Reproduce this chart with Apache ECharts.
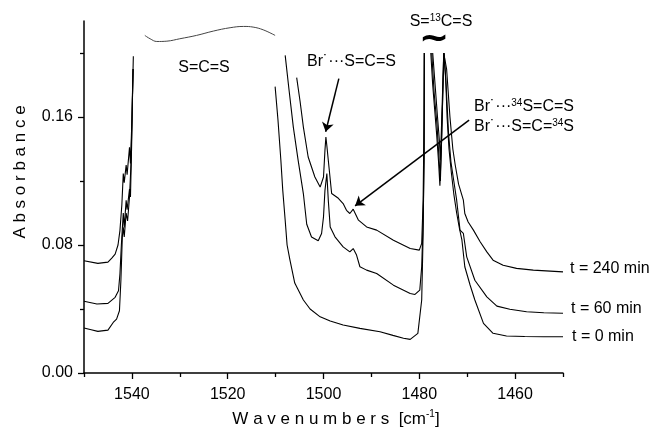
<!DOCTYPE html>
<html>
<head>
<meta charset="utf-8">
<script src="https://cdn.jsdelivr.net/npm/echarts@6/dist/echarts.min.js"></script>
<style>html,body{margin:0;padding:0;background:#fff}#c{width:655px;height:428px}</style>
</head>
<body>
<div id="c"></div>
<script>
// ---- data (wavenumber in cm-1, absorbance); null = gap (saturated / cut region)
var wn_t0 = [1550, 1548.5, 1547.1, 1545.0, 1543.9, 1543.2, 1542.6, 1542.3, 1542.0, 1541.8, 1541.6, 1541.2, 1540.9, 1540.5, 1540.2, 1539.9, 1539.7,
  1525,
  1510.1, 1509.5, 1508.9, 1508.5, 1508.0, 1507.6, 1507.0, 1506.0, 1504.2, 1502.8, 1500.7, 1498.6, 1495.9, 1492.4, 1488.2, 1485.5, 1483.3, 1481.9, 1480.3, 1479.5, 1479.2, 1479.0, 1478.95,
  1478.3,
  1477.6, 1477.2, 1476.8, 1476.4, 1476.0, 1475.7, 1475.4, 1475.0, 1474.8, 1474.5, 1474.2, 1473.8, 1473.3, 1472.8, 1472.2, 1471.6, 1471.1, 1470.5, 1469.4, 1468.4, 1466.6, 1464.6, 1461.8, 1458, 1454, 1450];
var abs_t0 = [0.0281, 0.027, 0.026, 0.0268, 0.0316, 0.0337, 0.0389, 0.0576, 0.085, 0.091, 0.085, 0.100, 0.095, 0.110, 0.130, 0.170, 0.190,
  null,
  0.179, 0.158, 0.133, 0.114, 0.0955, 0.080, 0.0705, 0.0562, 0.0456, 0.040, 0.0351, 0.0325, 0.030, 0.0279, 0.0258, 0.0235, 0.0217, 0.021, 0.0248, 0.0456, 0.087, 0.139, 0.2,
  null,
  0.2, 0.180, 0.165, 0.150, 0.133, 0.117, 0.140, 0.185, 0.200, 0.185, 0.160, 0.140, 0.125, 0.112, 0.100, 0.090, 0.083, 0.0664, 0.055, 0.0456, 0.031, 0.0248, 0.0231, 0.0228, 0.0227, 0.0227];

var wn_t60 = [1550, 1547.3, 1545.0, 1543.5, 1542.8, 1542.5, 1542.2, 1541.8, 1541.6, 1541.2, 1541.0, 1540.5, 1540.3, 1540.0, 1539.8,
  1525,
  1508.0, 1507.2, 1506.3, 1505.3, 1504.2, 1503.5, 1502.5, 1501.1, 1500.4, 1500.0, 1499.7, 1499.3, 1499.0, 1498.6, 1497.6, 1495.9, 1494.5, 1493.8, 1493.1, 1492.4, 1491.0, 1488.9, 1485.4, 1481.9, 1480.9, 1479.9, 1479.5, 1479.2, 1479.0, 1478.95,
  1478.3,
  1477.4, 1476.9, 1476.3, 1475.9, 1475.6, 1475.3, 1474.9, 1474.4, 1473.9, 1473.4, 1472.8, 1472.2, 1471.5, 1470.8, 1470.1, 1468.4, 1465.9, 1463.8, 1461.1, 1457.6, 1454, 1450];
var abs_t60 = [0.0448, 0.0431, 0.0435, 0.0473, 0.0514, 0.0618, 0.080, 0.100, 0.091, 0.108, 0.102, 0.115, 0.110, 0.150, 0.190,
  null,
  0.1985, 0.177, 0.1537, 0.133, 0.112, 0.093, 0.085, 0.0826, 0.0872, 0.0976, 0.114, 0.1247, 0.108, 0.0913, 0.0851, 0.0788, 0.0757, 0.0778, 0.0737, 0.0664, 0.0643, 0.0622, 0.0549, 0.0497, 0.0491, 0.0518, 0.0664, 0.0955, 0.133, 0.2,
  null,
  0.2, 0.175, 0.155, 0.135, 0.120, 0.150, 0.200, 0.180, 0.150, 0.132, 0.120, 0.108, 0.0893, 0.0872, 0.0726, 0.058, 0.0476, 0.0418, 0.0398, 0.0383, 0.0377, 0.0373];

var wn_t240 = [1550, 1547.1, 1545.0, 1544.2, 1543.5, 1542.9, 1542.5, 1542.1, 1541.8, 1541.6, 1541.2, 1541.0, 1540.5, 1540.3, 1540.0, 1539.7,
  1525,
  1505.6, 1504.9, 1504.2, 1503.2, 1501.8, 1500.7, 1500.0, 1499.7, 1499.5, 1499.3, 1499.0, 1498.3, 1496.9, 1495.9, 1495.2, 1494.5, 1493.8, 1492.7, 1491.0, 1488.9, 1485.4, 1481.9, 1480.0, 1479.5, 1479.2, 1479.0, 1478.95,
  1478.3,
  1477.2, 1476.7, 1476.2, 1475.8, 1475.6, 1475.3, 1474.9, 1474.3, 1473.6, 1473.0, 1472.5, 1471.8, 1470.8, 1470.5, 1469.8, 1468.7, 1467.3, 1465.9, 1464.6, 1462.5, 1459.7, 1456.2, 1450];
var abs_t240 = [0.0702, 0.0685, 0.0693, 0.0718, 0.0743, 0.080, 0.089, 0.105, 0.1247, 0.119, 0.130, 0.124, 0.141, 0.131, 0.158, 0.198,
  null,
  0.1846, 0.170, 0.1537, 0.135, 0.1225, 0.1162, 0.1225, 0.139, 0.1475, 0.142, 0.133, 0.1122, 0.1092, 0.1059, 0.1017, 0.0997, 0.1024, 0.0955, 0.0913, 0.0893, 0.083, 0.0778, 0.0768, 0.081, 0.108, 0.16, 0.2,
  null,
  0.2, 0.18, 0.16, 0.145, 0.133, 0.16, 0.2, 0.19, 0.16, 0.14, 0.13, 0.118, 0.108, 0.0997, 0.0944, 0.0893, 0.082, 0.0757, 0.0705, 0.0674, 0.0654, 0.0643, 0.0632];

// saturated S=C=S band (drawn as a wavy cut line)
var wn_cut = [1537.3, 1536.2, 1534.8, 1532.7, 1530.0, 1526.5, 1523.0, 1519.5, 1516.7, 1514.7, 1512.6, 1510.1];
var abs_cut = [0.2110, 0.2089, 0.2072, 0.2074, 0.2089, 0.2110, 0.2137, 0.2158, 0.2166, 0.2162, 0.2145, 0.2110];

var xMajor = [1460, 1480, 1500, 1520, 1540];
var xMinor = [1450, 1470, 1490, 1510, 1530, 1550];
var yMajor = [0, 0.08, 0.16];
var yMinor = [0.04, 0.12, 0.20];

var seriesNames = ['t = 0 min', 't = 60 min', 't = 240 min'];

// arrows: [from, to] in data coords
var arrow1 = [[1496.8, 0.184], [1499.55, 0.1508]];
var arrow2 = [[1469.6, 0.158], [1493.4, 0.1045]];

function pairs(xs, ys) {
  return xs.map(function (x, i) { return [x, ys[i] === null ? '-' : ys[i]]; });
}

var FF = "'Liberation Sans', Arial, sans-serif";
var chart = echarts.init(document.getElementById('c'), null, {renderer: 'canvas'});

var lineBase = {type: 'line', showSymbol: false, symbol: 'none', connectNulls: false, silent: true,
  lineStyle: {color: '#000', width: 1.1}, emphasis: {disabled: true}, z: 3};

var supRich = {
  n: {fontSize: 16, fontFamily: FF, fill: '#000', lineHeight: 20},
  s: {fontSize: 10, fontFamily: FF, fill: '#000', lineHeight: 20, verticalAlign: 'top', padding: [1, 0, 0, 0]}
};

function txt(x, y, text, align, extra) {
  var o = {type: 'text', x: x, y: y, silent: true, z: 10,
    style: {text: text, fontSize: 16, fontFamily: FF, fill: '#000', align: align || 'left', verticalAlign: 'middle', rich: supRich}};
  if (extra) { for (var k in extra) o.style[k] = extra[k]; }
  return o;
}

var option = {
  animation: false,
  grid: {left: 84, right: 92, top: 21, bottom: 55, containLabel: false, outerBoundsMode: 'none'},
  xAxis: [{
    type: 'value', min: 1450, max: 1550, inverse: true, position: 'bottom',
    axisLine: {lineStyle: {color: '#000', width: 1.5}},
    axisTick: {customValues: xMajor, length: 6, lineStyle: {color: '#000', width: 1.3}},
    axisLabel: {customValues: xMajor, color: '#000', fontSize: 16, fontFamily: FF, margin: 14,
      formatter: function (v) { return String(v); }},
    splitLine: {show: false},
    name: '{a|W a v e n u m b e r s  [cm}{s|-1}{a|]}',
    nameLocation: 'middle', nameGap: 36,
    nameTextStyle: {padding: [0, 0, 0, 25], rich: {
      a: {fontSize: 17, fontFamily: FF, color: '#000', lineHeight: 20},
      s: {fontSize: 10, fontFamily: FF, color: '#000', lineHeight: 20, verticalAlign: 'top'}
    }}
  }, {
    type: 'value', min: 1450, max: 1550, inverse: true, position: 'bottom',
    axisLine: {show: false},
    axisTick: {customValues: xMinor, length: 4, lineStyle: {color: '#000', width: 1.3}},
    axisLabel: {show: false}, splitLine: {show: false}
  }],
  yAxis: [{
    type: 'value', min: 0, max: 0.22, position: 'left',
    axisLine: {show: true, lineStyle: {color: '#000', width: 1.5}},
    axisTick: {show: true, customValues: yMajor, length: 6, lineStyle: {color: '#000', width: 1.3}},
    axisLabel: {customValues: yMajor, color: '#000', fontSize: 16, fontFamily: FF, margin: 11,
      formatter: function (v) { return v.toFixed(2); }},
    splitLine: {show: false},
    name: 'A b s o r b a n c e', nameLocation: 'middle', nameGap: 55,
    nameTextStyle: {fontSize: 17, fontFamily: FF, color: '#000', padding: [0, 0, 0, 50]}
  }, {
    type: 'value', min: 0, max: 0.22, position: 'left',
    axisLine: {show: false},
    axisTick: {show: true, customValues: yMinor, length: 4, lineStyle: {color: '#000', width: 1.3}},
    axisLabel: {show: false}, splitLine: {show: false}
  }],
  series: [
    Object.assign({}, lineBase, {name: seriesNames[0], data: pairs(wn_t0, abs_t0)}),
    Object.assign({}, lineBase, {name: seriesNames[1], data: pairs(wn_t60, abs_t60)}),
    Object.assign({}, lineBase, {name: seriesNames[2], data: pairs(wn_t240, abs_t240),
      markLine: {silent: true, animation: false, symbol: ['none', 'arrow'], symbolSize: 9,
        label: {show: false}, emphasis: {disabled: true},
        lineStyle: {color: '#000', width: 1.5, type: 'solid'},
        data: [
          [{coord: arrow1[0]}, {coord: arrow1[1]}],
          [{coord: arrow2[0]}, {coord: arrow2[1]}]
        ]}
    }),
    Object.assign({}, lineBase, {name: 'cut', data: pairs(wn_cut, abs_cut), smooth: 0.4,
      lineStyle: {color: '#444', width: 1}})
  ],
  graphic: [
    txt(204, 68, 'S=C=S', 'center'),
    txt(307, 62, '{n|Br˙···S=C=S}'),
    txt(441, 22, '{n|S=}{s|13}{n|C=S}', 'center'),
    txt(434, 40, '~', 'center', {fontSize: 36, fontWeight: 'bold', fontFamily: "'DejaVu Sans', sans-serif", rich: null}),
    txt(474, 107, '{n|Br˙···}{s|34}{n|S=C=S}'),
    txt(474, 127, '{n|Br˙···S=C=}{s|34}{n|S}'),
    txt(570, 269, seriesNames[2]),
    txt(571, 309, seriesNames[1]),
    txt(572, 337, seriesNames[0])
  ]
};
chart.setOption(option);
</script>
</body>
</html>
